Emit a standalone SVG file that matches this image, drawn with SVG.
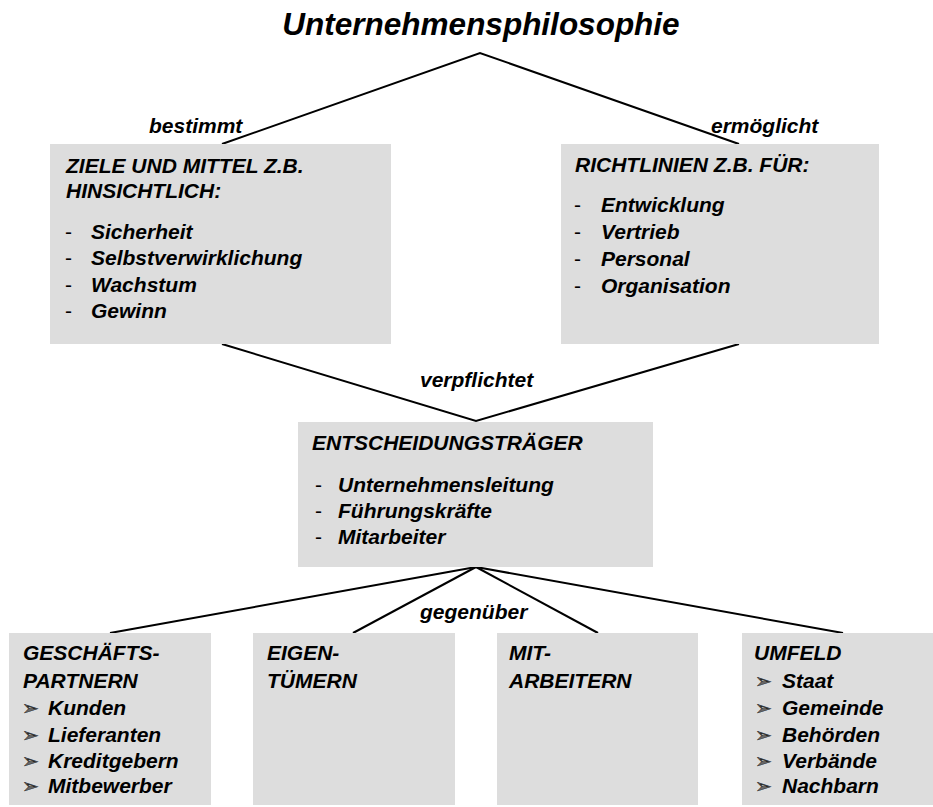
<svg xmlns="http://www.w3.org/2000/svg" width="933" height="807" viewBox="0 0 933 807">
<style>
.t{font-family:"Liberation Sans",Arial,sans-serif;font-weight:bold;font-style:italic;font-size:21px;fill:#000}
.d{font-family:"Liberation Sans",Arial,sans-serif;font-size:21px;fill:#000}
.b{font-family:"DejaVu Sans",sans-serif;font-size:20px;fill:#666;stroke:#222;stroke-width:0.5}
.box{fill:#dddddd}
.ln{stroke:#000;stroke-width:2;fill:none}
</style>
<rect width="933" height="807" fill="#fff"/>
<g id="connectors">
<polyline class="ln" points="222,144 480,53 739,144"/>
<polyline class="ln" points="222,344 476,421 739,344"/>
<line class="ln" x1="476" y1="567" x2="110" y2="633"/>
<line class="ln" x1="476" y1="567" x2="353" y2="633"/>
<line class="ln" x1="476" y1="567" x2="598" y2="633"/>
<line class="ln" x1="476" y1="567" x2="843" y2="633"/>
<text class="t" x="149" y="133">bestimmt</text>
<text class="t" x="711" y="133">ermöglicht</text>
<text class="t" x="420" y="387">verpflichtet</text>
<text class="t" x="420" y="619">gegenüber</text>
</g>
<g id="title">
<text class="t" x="481" y="35" text-anchor="middle" style="font-size:31.5px">Unternehmensphilosophie</text>
</g>
<g id="ziele">
<rect class="box" x="50" y="144" width="341" height="200"/>
<text class="t" x="66" y="173">ZIELE UND MITTEL Z.B.</text>
<text class="t" x="66" y="198">HINSICHTLICH:</text>
<text class="d" x="65" y="239">-</text><text class="t" x="91" y="239">Sicherheit</text>
<text class="d" x="65" y="265">-</text><text class="t" x="91" y="265">Selbstverwirklichung</text>
<text class="d" x="65" y="292">-</text><text class="t" x="91" y="292">Wachstum</text>
<text class="d" x="65" y="318">-</text><text class="t" x="91" y="318">Gewinn</text>
</g>
<g id="richtlinien">
<rect class="box" x="561" y="144" width="318" height="200"/>
<text class="t" x="575" y="172">RICHTLINIEN Z.B. FÜR:</text>
<text class="d" x="574" y="212">-</text><text class="t" x="601" y="212">Entwicklung</text>
<text class="d" x="574" y="239">-</text><text class="t" x="601" y="239">Vertrieb</text>
<text class="d" x="574" y="266">-</text><text class="t" x="601" y="266">Personal</text>
<text class="d" x="574" y="293">-</text><text class="t" x="601" y="293">Organisation</text>
</g>
<g id="entscheidungstraeger">
<rect class="box" x="298" y="422" width="355" height="145"/>
<text class="t" x="312" y="450">ENTSCHEIDUNGSTRÄGER</text>
<text class="d" x="315" y="492">-</text><text class="t" x="338" y="492">Unternehmensleitung</text>
<text class="d" x="315" y="518">-</text><text class="t" x="338" y="518">Führungskräfte</text>
<text class="d" x="315" y="544">-</text><text class="t" x="338" y="544">Mitarbeiter</text>
</g>
<g id="geschaeftspartnern">
<rect class="box" x="9" y="633" width="202" height="172"/>
<text class="t" x="23" y="660">GESCHÄFTS-</text>
<text class="t" x="23" y="688">PARTNERN</text>
<text class="b" x="22" y="715">➢</text><text class="t" x="48" y="715">Kunden</text>
<text class="b" x="22" y="742">➢</text><text class="t" x="48" y="742">Lieferanten</text>
<text class="b" x="22" y="768">➢</text><text class="t" x="48" y="768">Kreditgebern</text>
<text class="b" x="22" y="793">➢</text><text class="t" x="48" y="793">Mitbewerber</text>
</g>
<g id="eigentuemern">
<rect class="box" x="253" y="633" width="202" height="172"/>
<text class="t" x="267" y="660">EIGEN-</text>
<text class="t" x="267" y="688">TÜMERN</text>
</g>
<g id="mitarbeitern">
<rect class="box" x="497" y="633" width="201" height="172"/>
<text class="t" x="509" y="660">MIT-</text>
<text class="t" x="509" y="688">ARBEITERN</text>
</g>
<g id="umfeld">
<rect class="box" x="742" y="633" width="191" height="172"/>
<text class="t" x="754" y="660">UMFELD</text>
<text class="b" x="755" y="688">➢</text><text class="t" x="782" y="688">Staat</text>
<text class="b" x="755" y="715">➢</text><text class="t" x="782" y="715">Gemeinde</text>
<text class="b" x="755" y="742">➢</text><text class="t" x="782" y="742">Behörden</text>
<text class="b" x="755" y="768">➢</text><text class="t" x="782" y="768">Verbände</text>
<text class="b" x="755" y="793">➢</text><text class="t" x="782" y="793">Nachbarn</text>
</g>
</svg>
